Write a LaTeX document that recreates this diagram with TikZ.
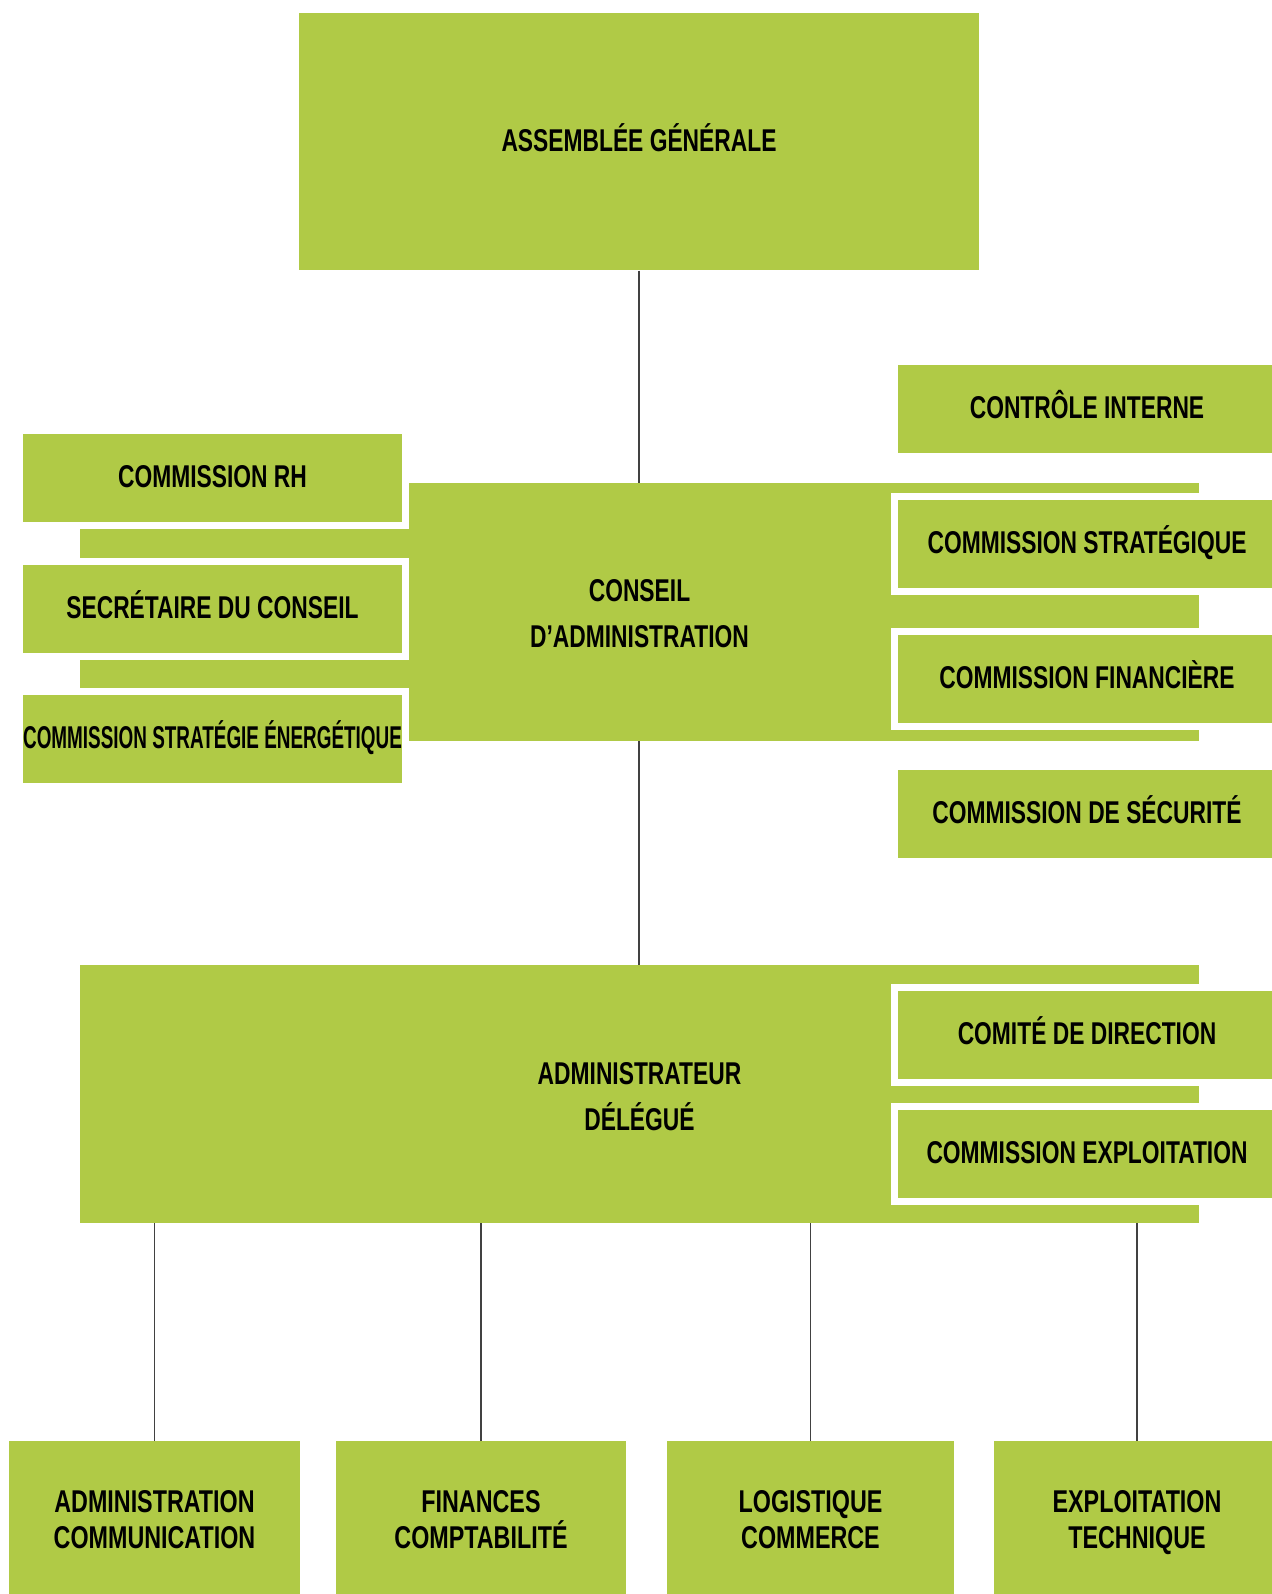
\documentclass[tikz,border=0pt]{standalone}
\usepackage{fontspec}
\setmainfont{Liberation Sans}[FakeStretch=0.724]
\newfontfamily\narrowfont{Liberation Sans}[FakeStretch=0.60]
\newfontfamily\bottomfont{Liberation Sans}[FakeStretch=0.74]
\definecolor{agreen}{RGB}{176,202,70}
\definecolor{linegray}{RGB}{65,65,65}
\begin{document}
\begin{tikzpicture}[x=1pt,y=-1pt,
  lbl/.style={font=\bfseries\fontsize{31.5}{46}\selectfont, align=center, text=black},
  one/.style={text height=21.7pt, text depth=2pt},
  blk/.style={lbl, fill=agreen, draw=none, inner sep=0pt},
  side/.style={lbl, one, fill=agreen, draw=white, line width=7pt, inner sep=0pt, minimum width=386pt, minimum height=95pt},
  bottom/.style={blk, font=\bottomfont\bfseries\fontsize{31.5}{35.5}\selectfont, minimum height=163pt},
  conn/.style={draw=linegray, line width=1.5pt}
]
\useasboundingbox (0,0) rectangle (1271,1594);

% main column
\node[blk, one, minimum width=680pt, minimum height=257.5pt] (ag) at (639,141.75) {ASSEMBLÉE GÉNÉRALE};
\node[blk, minimum width=1119pt, minimum height=258pt] (ca) at (639.5,612) {\rule{0pt}{26pt}CONSEIL\\D’ADMINISTRATION};
\node[blk, minimum width=1119pt, minimum height=258pt] (ad) at (639.5,1094) {\rule{0pt}{28pt}ADMINISTRATEUR\\DÉLÉGUÉ};

% left commissions
\node[side] (rh) at (212.5,477.5) {COMMISSION RH};
\node[side] (sec) at (212.5,608.5) {SECRÉTAIRE DU CONSEIL};
\node[side, font=\narrowfont\bfseries\fontsize{31.5}{46}\selectfont] (cse) at (212.5,739) {COMMISSION STRATÉGIE ÉNERGÉTIQUE};

% right commissions
\node[side] (ci) at (1087,409) {CONTRÔLE INTERNE};
\node[side] (cs) at (1087,544) {COMMISSION STRATÉGIQUE};
\node[side] (cf) at (1087,679) {COMMISSION FINANCIÈRE};
\node[side] (csec) at (1087,814) {COMMISSION DE SÉCURITÉ};
\node[side] (cd) at (1087,1035) {COMITÉ DE DIRECTION};
\node[side] (ce) at (1087,1154) {COMMISSION EXPLOITATION};

% bottom departments
\node[bottom, minimum width=291pt] (b1) at (154.5,1522.5) {ADMINISTRATION\\COMMUNICATION\vphantom{Q}};
\node[bottom, minimum width=290pt] (b2) at (481,1522.5) {FINANCES\\COMPTABILITÉ\vphantom{Q}};
\node[bottom, minimum width=287pt] (b3) at (810.5,1522.5) {LOGISTIQUE\\COMMERCE\vphantom{Q}};
\node[bottom, minimum width=286pt] (b4) at (1137,1522.5) {EXPLOITATION\\TECHNIQUE\vphantom{Q}};

% connectors
\draw[conn] (ag.south) -- (ag.south |- ca.north);
\draw[conn] (ag.south |- ca.south) -- (ag.south |- ad.north);
\draw[conn] (b1.north |- ad.south) -- (b1.north);
\draw[conn] (b2.north |- ad.south) -- (b2.north);
\draw[conn] (b3.north |- ad.south) -- (b3.north);
\draw[conn] (b4.north |- ad.south) -- (b4.north);
\end{tikzpicture}
\end{document}
